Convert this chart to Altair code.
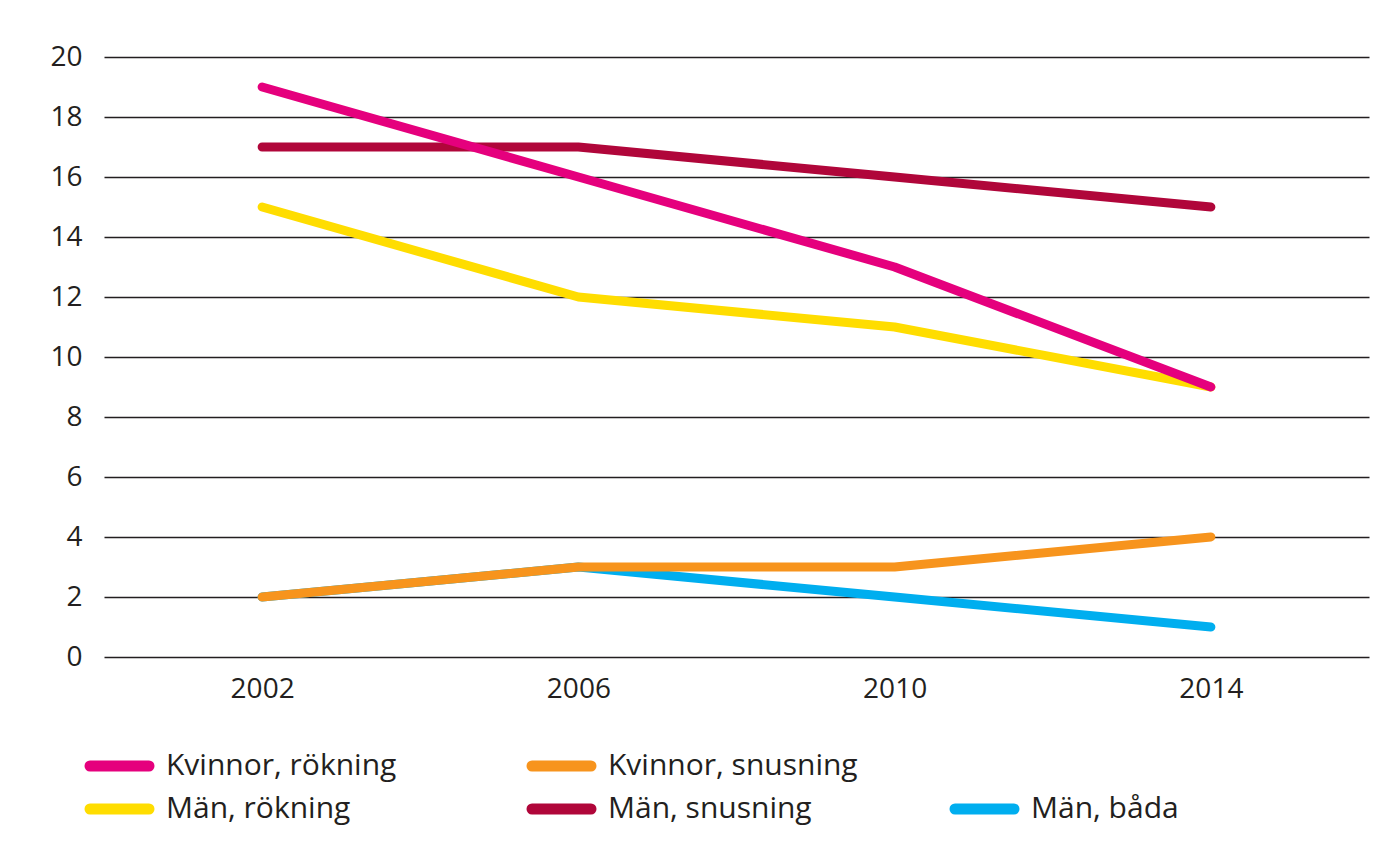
import altair as alt
import pandas as pd

# ---- data ----
years = ["2002", "2006", "2010", "2014"]
series = ["Kvinnor, rökning", "Kvinnor, snusning", "Män, rökning", "Män, snusning", "Män, båda"]
kvinnor_rokning = [19, 16, 13, 9]
kvinnor_snusning = [2, 3, 3, 4]
man_rokning = [15, 12, 11, 9]
man_snusning = [17, 17, 16, 15]
man_bada = [2, 3, 2, 1]
y_ticks = [0, 2, 4, 6, 8, 10, 12, 14, 16, 18, 20]

colors = ["#E5007D", "#F7941D", "#FFDD00", "#B0063A", "#00AEEF"]

values = {
    "Kvinnor, rökning": kvinnor_rokning,
    "Kvinnor, snusning": kvinnor_snusning,
    "Män, rökning": man_rokning,
    "Män, snusning": man_snusning,
    "Män, båda": man_bada,
}
rows = []
for s, vals in values.items():
    for y, v in zip(years, vals):
        rows.append({"serie": s, "year": y, "value": v})
df = pd.DataFrame(rows)

# ---- layout ----
W, H = 1265, 600
FONT = "Open Sans"
TEXT_COLOR = "#231f20"
# legend grid: (column, row) of each series
leg_cell = {
    "Kvinnor, rökning": (0, 0),
    "Kvinnor, snusning": (1, 0),
    "Män, rökning": (0, 1),
    "Män, snusning": (1, 1),
    "Män, båda": (2, 1),
}
leg_col_x = [-14, 428, 851]
leg_row_y = [709, 752]
sym_len = 59
text_gap = 17

leg_rows = []
for s in series:
    c, r = leg_cell[s]
    x0 = leg_col_x[c]
    leg_rows.append({"serie": s, "x0": x0, "x1": x0 + sym_len,
                     "xt": x0 + sym_len + text_gap, "y": leg_row_y[r]})
leg_df = pd.DataFrame(leg_rows)

color_scale = alt.Scale(domain=series, range=colors)

x_enc = alt.X("year:N", scale=alt.Scale(type="point", padding=0.5), title=None,
              axis=alt.Axis(labelAngle=0, grid=False, domain=False, ticks=False,
                            labelPadding=18))
y_enc = alt.Y("value:Q", scale=alt.Scale(domain=[0, 20], nice=False), title=None,
              axis=alt.Axis(values=y_ticks, grid=True, domain=False, ticks=False,
                            labelPadding=22))

draw_order = ["Män, båda", "Kvinnor, snusning", "Män, snusning", "Män, rökning", "Kvinnor, rökning"]
line_layers = []
for s in draw_order:
    line_layers.append(
        alt.Chart(df)
        .transform_filter(alt.datum.serie == s)
        .mark_line(strokeWidth=9, strokeCap="round", strokeJoin="round")
        .encode(x=x_enc, y=y_enc,
                color=alt.Color("serie:N", scale=color_scale, legend=None))
    )
main = alt.layer(*line_layers)

lx = alt.Scale(domain=[0, W], nice=False, zero=False)
ly = alt.Scale(domain=[0, H], nice=False, zero=False, reverse=True)
leg_sym = alt.Chart(leg_df).mark_rule(strokeWidth=11, strokeCap="round").encode(
    x=alt.X("x0:Q", scale=lx, axis=None),
    x2="x1:Q",
    y=alt.Y("y:Q", scale=ly, axis=None),
    color=alt.Color("serie:N", scale=color_scale, legend=None),
)
leg_txt = alt.Chart(leg_df).mark_text(
    align="left", baseline="middle", font=FONT, fontSize=30, color=TEXT_COLOR
).encode(
    x=alt.X("xt:Q", scale=lx, axis=None),
    y=alt.Y("y:Q", scale=ly, axis=None),
    text="serie:N",
)
legend = alt.layer(leg_sym, leg_txt)

chart = (
    alt.layer(main, legend)
    .resolve_scale(x="independent", y="independent")
    .properties(width=W, height=H,
                padding={"left": 41, "top": 35, "right": 4, "bottom": 6})
    .configure_view(stroke=None)
    .configure_axis(labelFont=FONT, labelFontSize=28, labelColor=TEXT_COLOR,
                    gridColor="#231f20", gridWidth=1.6, gridOpacity=1)
)

chart.save("out.html", embed_options={"renderer": "svg", "actions": False})
